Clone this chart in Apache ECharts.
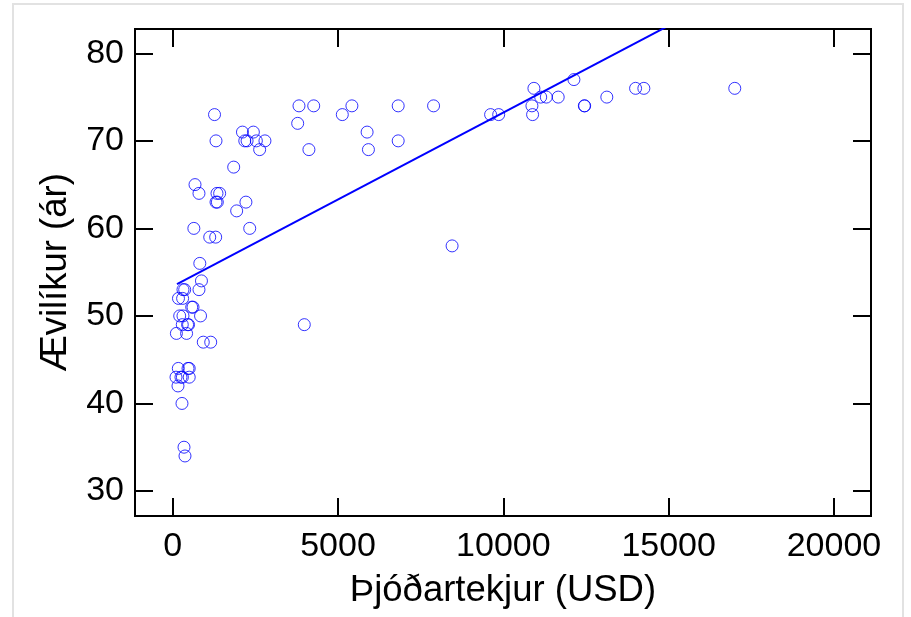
<!DOCTYPE html>
<html>
<head>
<meta charset="utf-8">
<script src="https://cdn.jsdelivr.net/npm/echarts@6/dist/echarts.min.js"></script>
<style>
  html, body { margin: 0; padding: 0; background: #fff; }
  #frame { position: absolute; left: 12px; top: 3px; width: 892px; height: 700px; border: 2px solid #e2e2e2; box-sizing: border-box; }
  #chart { position: absolute; left: 0; top: 0; width: 911px; height: 617px; }
</style>
</head>
<body>
<div id="frame"></div>
<div id="chart"></div>
<script>
// Þjóðartekjur (USD) og ævilíkur (ár), lesið af myndinni
const income = [
  12135,
  10925, 14000, 14250, 17000,
  11130, 11300, 11660, 13130,
  3820, 4265, 5420, 6820, 7890, 10865, 12450, 12460,
  1265, 5130, 9615, 9860, 10885,
  3780,
  2110, 2440, 5880,
  1310, 2180, 2250, 2530, 2790, 6820,
  2630, 4120, 5920,
  1845,
  675,
  795, 1340, 1420,
  1310, 1350, 2215,
  1935,
  640, 2330,
  1120, 1300,
  8450,
  820,
  870,
  311, 363, 795,
  175, 300,
  575, 615,
  212, 311, 842,
  290, 450, 480, 3980,
  112, 420,
  925, 1150,
  170, 463, 500,
  100, 250, 293, 500,
  160,
  281,
  342,
  372
];
const lifeExp = [
  77,
  76, 76, 76, 76,
  75, 75, 75, 75,
  74, 74, 74, 74, 74, 74, 74, 74,
  73, 73, 73, 73, 73,
  72,
  71, 71, 71,
  70, 70, 70, 70, 70, 70,
  69, 69, 69,
  67,
  65,
  64, 64, 64,
  63, 63, 63,
  62,
  60, 60,
  59, 59,
  58,
  56,
  54,
  53, 53, 53,
  52, 52,
  51, 51,
  50, 50, 50,
  49, 49, 49, 49,
  48, 48,
  47, 47,
  44, 44, 44,
  43, 43, 43, 43,
  42,
  40,
  35,
  34
];

// aðfallslína: skurðpunktur, hallatala og bil
const fitIntercept = 53.37;
const fitSlope = 0.001986;
const fitRange = [130, 17000];

const xTicks = [0, 5000, 10000, 15000, 20000];
const yTicks = [30, 40, 50, 60, 70, 80];

const FONT = '"Liberation Sans", Arial, sans-serif';
const points = income.map((x, i) => [x, lifeExp[i]]);
const fitLine = fitRange.map(x => [x, fitIntercept + fitSlope * x]);

const tickStyle = { color: '#000', width: 2 };
const labelStyle = { color: '#000', fontSize: 34, fontFamily: FONT };
const nameStyle = { color: '#000', fontSize: 36.5, fontFamily: FONT };

function frameAxis(extra) {
  return Object.assign({
    type: 'value',
    axisLine: { show: false, onZero: false },
    splitLine: { show: false },
    axisLabel: { show: false }
  }, extra);
}

const chart = echarts.init(document.getElementById('chart'));
chart.setOption({
  animation: false,
  backgroundColor: 'transparent',
  grid: {
    left: 135, top: 29, right: 40, bottom: 101,
    show: true, borderColor: '#000', borderWidth: 2,
    backgroundColor: 'transparent'
  },
  xAxis: [frameAxis({
    min: -1140, max: 21120, position: 'bottom',
    axisTick: { inside: true, length: 18, lineStyle: tickStyle, customValues: xTicks },
    axisLabel: Object.assign({ customValues: xTicks, margin: 14, formatter: v => String(v) }, labelStyle),
    name: 'Þjóðartekjur (USD)', nameLocation: 'middle', nameGap: 56,
    nameTextStyle: nameStyle
  }), frameAxis({
    min: -1140, max: 21120, position: 'top',
    axisTick: { inside: true, length: 18, lineStyle: tickStyle, customValues: xTicks }
  })],
  yAxis: [frameAxis({
    min: 27.14, max: 82.78, position: 'left',
    axisTick: { inside: true, length: 18, lineStyle: tickStyle, customValues: yTicks },
    axisLabel: Object.assign({ customValues: yTicks, margin: 11, formatter: v => String(v) }, labelStyle),
    name: 'Ævilíkur (ár)', nameLocation: 'middle', nameGap: 61,
    nameTextStyle: nameStyle
  }), frameAxis({
    min: 27.14, max: 82.78, position: 'right',
    axisTick: { inside: true, length: 18, lineStyle: tickStyle, customValues: yTicks }
  })],
  series: [{
    type: 'scatter',
    data: points,
    symbol: 'circle',
    symbolSize: 12,
    itemStyle: { color: 'rgba(0,0,0,0)', borderColor: '#0000ff', borderWidth: 1 },
    emphasis: { disabled: true }
  }, {
    type: 'line',
    data: fitLine,
    showSymbol: false,
    clip: true,
    lineStyle: { color: '#0000ff', width: 2 },
    emphasis: { disabled: true }
  }]
});
</script>
</body>
</html>
